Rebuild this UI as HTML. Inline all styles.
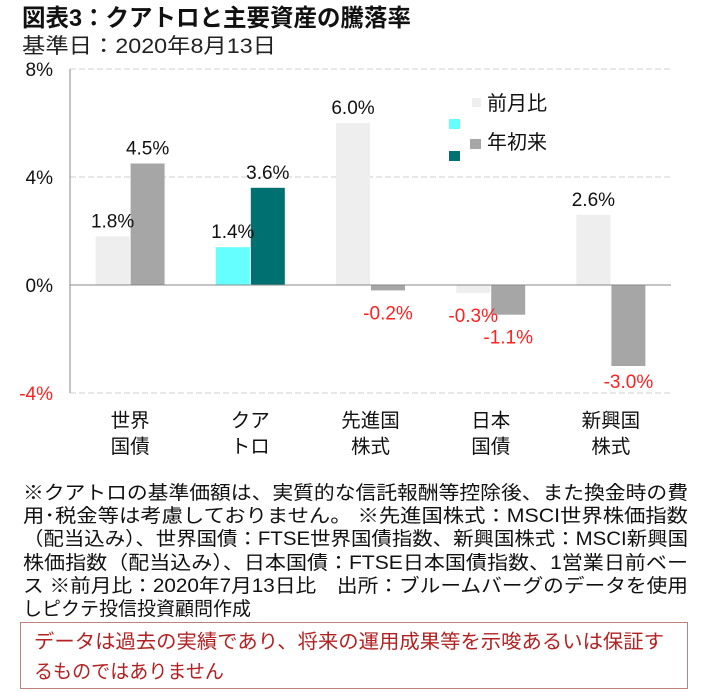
<!DOCTYPE html>
<html><head><meta charset="utf-8"><style>
html,body{margin:0;padding:0;background:#fff}
svg{display:block;font-family:"Liberation Sans","Noto Sans CJK JP",sans-serif}
</style></head><body>
<svg id="chart" width="724" height="692" viewBox="0 0 724 692">
<text x="22" y="26" font-size="24" font-weight="bold" fill="#111" textLength="389" lengthAdjust="spacingAndGlyphs">図表3：クアトロと主要資産の騰落率</text>
<text x="22" y="53" font-size="21" fill="#222" textLength="254" lengthAdjust="spacingAndGlyphs">基準日：2020年8月13日</text>
<g id="grid"></g>
<g id="bars"></g>
<g id="labels"></g>
<g>
<rect x="472" y="98" width="9" height="9" fill="#eeeeee"/>
<text x="487" y="110" font-size="20" fill="#111">前月比</text>
<rect x="449" y="119" width="11" height="10" fill="#66ffff"/>
<rect x="470" y="139" width="11" height="10" fill="#a6a6a6"/>
<rect x="449" y="151" width="11" height="10" fill="#007070"/>
<text x="487" y="149" font-size="20" fill="#111">年初来</text>
</g>
<g font-size="19" fill="#111">
<text x="23" y="499" textLength="665" lengthAdjust="spacingAndGlyphs">※クアトロの基準価額は、実質的な信託報酬等控除後、また換金時の費</text>
<text x="23" y="522" textLength="665" lengthAdjust="spacingAndGlyphs">用･税金等は考慮しておりません。 ※先進国株式：MSCI世界株価指数</text>
<text x="23" y="545" textLength="665" lengthAdjust="spacingAndGlyphs">（配当込み）、世界国債：FTSE世界国債指数、新興国株式：MSCI新興国</text>
<text x="23" y="569" textLength="665" lengthAdjust="spacingAndGlyphs">株価指数（配当込み）、日本国債：FTSE日本国債指数、1営業日前ベー</text>
<text x="23" y="592" textLength="665" lengthAdjust="spacingAndGlyphs">ス ※前月比：2020年7月13日比　出所：ブルームバーグのデータを使用</text>
<text x="23" y="615" textLength="228" lengthAdjust="spacingAndGlyphs">しピクテ投信投資顧問作成</text>
</g>
<rect x="20.5" y="622.5" width="667" height="66" fill="none" stroke="#c08080" stroke-width="1"/>
<g font-size="19.5" fill="#b22222">
<text x="34" y="648" textLength="630" lengthAdjust="spacingAndGlyphs">データは過去の実績であり、将来の運用成果等を示唆あるいは保証す</text>
<text x="34" y="678" textLength="190" lengthAdjust="spacingAndGlyphs">るものではありません</text>
</g>
</svg>
<script>
const categories = [["世界","国債"],["クア","トロ"],["先進国","株式"],["日本","国債"],["新興国","株式"]];
const momValues = [1.8, 1.4, 6.0, -0.3, 2.6];
const ytdValues = [4.5, 3.6, -0.2, -1.1, -3.0];
const yTicks = [8, 4, 0, -4];
const NS = "http://www.w3.org/2000/svg";
const plotL = 70, plotR = 671, y0 = 285, pxPer = 27;
function yS(v){ return y0 - v * pxPer; }
function xC(i){ return plotL + (plotR - plotL) / categories.length * (i + 0.5); }
function mk(tag, attrs, parent){ const e = document.createElementNS(NS, tag); for (const k in attrs) e.setAttribute(k, attrs[k]); parent.appendChild(e); return e; }
const grid = document.getElementById('grid'), bars = document.getElementById('bars'), labels = document.getElementById('labels');
yTicks.forEach(t => {
  const y = yS(t);
  if (t !== 0) {
    const l = mk('line', {x1: plotL, x2: plotR, y1: y, y2: y, stroke: '#cfcfcf', 'stroke-dasharray': '6,3'}, grid);
    
    
  }
  const tx = mk('text', {x: 53, y: y + 7, 'font-size': 19, 'text-anchor': 'end', fill: t < 0 ? '#ff2020' : '#111'}, grid);
  tx.textContent = t + '%';
  
  
});
const ax = mk('line', {x1: plotL, x2: plotL, y1: yS(yTicks[0]), y2: yS(yTicks[yTicks.length-1]), stroke: '#888'}, grid);


const bw = 34;
const bottomY = yS(yTicks[yTicks.length-1]);
categories.forEach((c, i) => {
  const cx = xC(i);
  const isQ = i === 1;
  [[momValues[i], cx - bw - 0.5, isQ ? '#66ffff' : '#eeeeee', 'bar-mom'], [ytdValues[i], cx + 0.5, isQ ? '#007070' : '#a6a6a6', 'bar-ytd']].forEach(([v, x, col, nm]) => {
    const top = Math.min(yS(v), y0), h = Math.abs(yS(v) - y0);
    const r = mk('rect', {x: x, y: top, width: bw, height: h, fill: col}, bars);
    
    
    const ly = v >= 0 ? top - 9 : Math.min(top + h + 29, bottomY - 5);
    const lt = mk('text', {x: x + bw / 2, y: ly, 'font-size': 19, 'text-anchor': 'middle', fill: v < 0 ? '#ff2020' : '#111'}, labels);
    lt.textContent = v.toFixed(1) + '%';
    
    
  });
  c.forEach((s, k) => {
    const t = mk('text', {x: cx, y: 427 + k * 26, 'font-size': 19.5, 'text-anchor': 'middle', fill: '#111'}, labels);
    t.textContent = s;
    
    
  });
});
const zl = mk('line', {x1: plotL, x2: plotR, y1: y0, y2: y0, stroke: '#888'}, grid);
bars.parentNode.insertBefore(bars, grid.nextSibling);
grid.parentNode.appendChild(zl);


</script>
</body></html>
